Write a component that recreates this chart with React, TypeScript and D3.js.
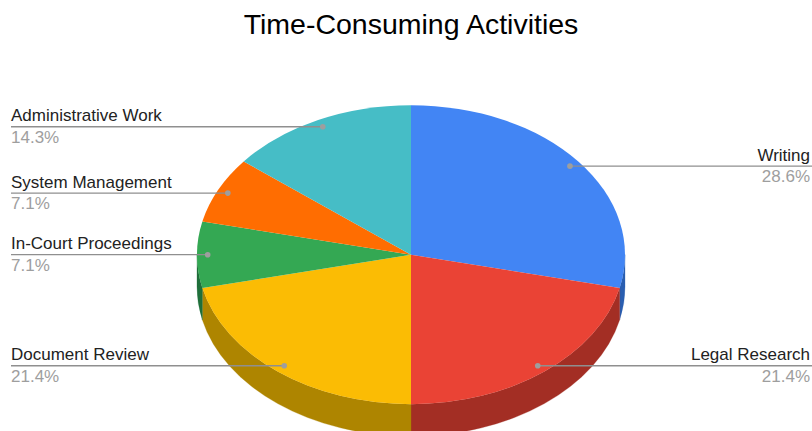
import React from "react";
import * as d3 from "d3";

const title = "Time-Consuming Activities";
const categories = ["Writing", "Legal Research", "Document Review", "In-Court Proceedings", "System Management", "Administrative Work"];
const hours = [4, 3, 3, 1, 1, 2];
const percentLabels = ["28.6%", "21.4%", "21.4%", "7.1%", "7.1%", "14.3%"];
const topColors = ["#4285f4", "#ea4335", "#fbbc04", "#34a853", "#ff6d01", "#46bdc6"];
const sideColors = ["#2a5eb0", "#a32e24", "#ae8500", "#1f6f3a", "#b04b00", "#2f8289"];

const W = 812, H = 431;
const cx = 411, cy = 254.7, rx = 214, ry = 149.5, depth = 32;
const leaderFraction = 0.95;
const leftX = 11, rightX = 810;

const pt = (a: number, f = 1): [number, number] => [cx + rx * f * Math.sin(a), cy - ry * f * Math.cos(a)];

export default function App() {
  const rows = categories.map((name, i) => ({ name, value: hours[i], i }));
  const arcs = d3.pie<any>().sort(null).value((d) => d.value)(rows);
  const arcGen = d3.arc<any>().innerRadius(0).outerRadius(rx);

  const sidePath = (a0: number, a1: number) => {
    const s = Math.max(a0, Math.PI / 2);
    const e = Math.min(a1, (3 * Math.PI) / 2);
    if (e <= s) return null;
    const [x0, y0] = pt(s);
    const [x1, y1] = pt(e);
    return (
      `M${x0},${y0}A${rx},${ry} 0 0 1 ${x1},${y1}L${x1},${y1 + depth}` +
      `A${rx},${ry} 0 0 0 ${x0},${y0 + depth}Z`
    );
  };

  return (
    <svg width={W} height={H} viewBox={`0 0 ${W} ${H}`} style={{ position: "fixed", left: 0, top: 0, display: "block", background: "#fff" }}
      fontFamily="'Liberation Sans', Arial, sans-serif">
      <text x={411} y={34} textAnchor="middle" fontSize={28.5} fill="#000">{title}</text>
      {arcs.map((a, i) => {
        const d = sidePath(a.startAngle, a.endAngle);
        return d ? <path key={i} d={d} fill={sideColors[i]} stroke={sideColors[i]} strokeWidth={0.3} /> : null;
      })}
      <g transform={`translate(${cx},${cy}) scale(1,${ry / rx})`}>
        {arcs.map((a, i) => <path key={i} d={arcGen(a) as string} fill={topColors[i]} />)}
      </g>
      {arcs.map((a, i) => {
        const mid = (a.startAngle + a.endAngle) / 2;
        const [x, y] = pt(mid, leaderFraction);
        const right = mid < Math.PI;
        const tx = right ? rightX : leftX;
        const anchor = right ? "end" : "start";
        return (
          <g key={i}>
            <line x1={x} y1={y} x2={right ? W : leftX} y2={y} stroke="#8f8f8f" strokeWidth={1.3} />
            <circle cx={x} cy={y} r={2.8} fill="#9e9e9e" />
            <text x={tx} y={y - 5.5} textAnchor={anchor} fontSize={17} fill="#222">{a.data.name}</text>
            <text x={tx} y={y + 16} textAnchor={anchor} fontSize={17} fill="#9e9e9e">{percentLabels[i]}</text>
          </g>
        );
      })}
    </svg>
  );
}
